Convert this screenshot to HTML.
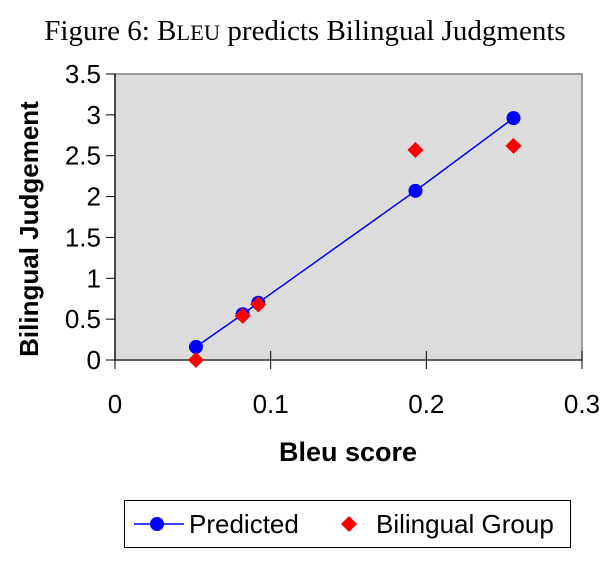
<!DOCTYPE html>
<html><head><meta charset="utf-8"><style>
body{margin:0;background:#fff;width:613px;height:566px;overflow:hidden}
svg{display:block}
</style></head><body>
<svg width="613" height="566" xmlns="http://www.w3.org/2000/svg">
<text x="305" y="40" text-anchor="middle" font-family="Liberation Serif, serif" font-size="29">Figure 6: B<tspan font-size="22.5">LEU</tspan> predicts Bilingual Judgments</text>
<g id="plot"></g>
<text x="348" y="461" text-anchor="middle" font-family="Liberation Sans, sans-serif" font-weight="bold" font-size="27">Bleu score</text>
<text transform="translate(38,229) rotate(-90)" text-anchor="middle" font-family="Liberation Sans, sans-serif" font-weight="bold" font-size="26">Bilingual Judgement</text>
<g>
<rect x="124.5" y="500.5" width="446" height="47" fill="#fff" stroke="#000" stroke-width="1"/>
<g>
<line x1="134" y1="524" x2="184" y2="524" stroke="#0000ff" stroke-width="1.5"/>
<circle cx="157" cy="524" r="7" fill="#0000ff"/>
<text x="189" y="533" font-family="Liberation Sans, sans-serif" font-size="26">Predicted</text>
</g>
<g>
<polygon points="349,516 357,524 349,532 341,524" fill="#ff0000"/>
<text x="376" y="533" font-family="Liberation Sans, sans-serif" font-size="26">Bilingual Group</text>
</g>
</g>
</svg>
<script>
const bleu = [0.052, 0.082, 0.092, 0.193, 0.256];
const predicted = [0.16, 0.56, 0.70, 2.07, 2.96];
const bilingual = [0.0, 0.54, 0.68, 2.57, 2.62];
const xTicks = [0, 0.1, 0.2, 0.3];
const xTickLabels = ["0", "0.1", "0.2", "0.3"];
const yTicks = [0, 0.5, 1, 1.5, 2, 2.5, 3, 3.5];
const yTickLabels = ["0", "0.5", "1", "1.5", "2", "2.5", "3", "3.5"];

const NS = "http://www.w3.org/2000/svg";
const L = 115, R = 582, T = 74, B = 360;
const xs = v => L + (v - 0) / 0.3 * (R - L);
const ys = v => B - v / 3.5 * (B - T);
const g = document.getElementById('plot');
function mk(tag, attrs, parent) {
  const e = document.createElementNS(NS, tag);
  for (const k in attrs) e.setAttribute(k, attrs[k]);
  (parent || g).appendChild(e);
  return e;
}
let e = mk('rect', {x: L, y: T, width: R - L, height: B - T, fill: '#dcdcdc', stroke: '#808080', 'stroke-width': 1.5});


e = mk('line', {x1: L, y1: T, x2: L, y2: B, stroke: '#000', 'stroke-width': 1.2});


e = mk('line', {x1: L, y1: B, x2: R, y2: B, stroke: '#404040', 'stroke-width': 1.5});


yTicks.forEach((v, i) => {
  const y = ys(v);
  let t = mk('line', {x1: L - 9, y1: y, x2: L, y2: y, stroke: '#000', 'stroke-width': 1});
  
  
  t = mk('text', {x: L - 14, y: y + 9, 'text-anchor': 'end', 'font-family': 'Liberation Sans, sans-serif', 'font-size': 26});
  t.textContent = yTickLabels[i];
  
  
});
xTicks.forEach((v, i) => {
  const x = xs(v);
  let t = mk('line', {x1: x, y1: B - 9, x2: x, y2: B + 9, stroke: '#000', 'stroke-width': 1});
  
  
  t = mk('text', {x: x, y: B + 53, 'text-anchor': 'middle', 'font-family': 'Liberation Sans, sans-serif', 'font-size': 26});
  t.textContent = xTickLabels[i];
  
  
});
const pts = bleu.map((b, i) => xs(b) + ',' + ys(predicted[i])).join(' ');
e = mk('polyline', {points: pts, fill: 'none', stroke: '#0000ff', 'stroke-width': 1.5});


bleu.forEach((b, i) => {
  const c = mk('circle', {cx: xs(b), cy: ys(predicted[i]), r: 7, fill: '#0000ff'});
  
  
});
bleu.forEach((b, i) => {
  const x = xs(b), y = ys(bilingual[i]);
  const d = mk('polygon', {points: `${x},${y-8} ${x+8},${y} ${x},${y+8} ${x-8},${y}`, fill: '#ff0000'});
  
  
});
</script>
</body></html>
